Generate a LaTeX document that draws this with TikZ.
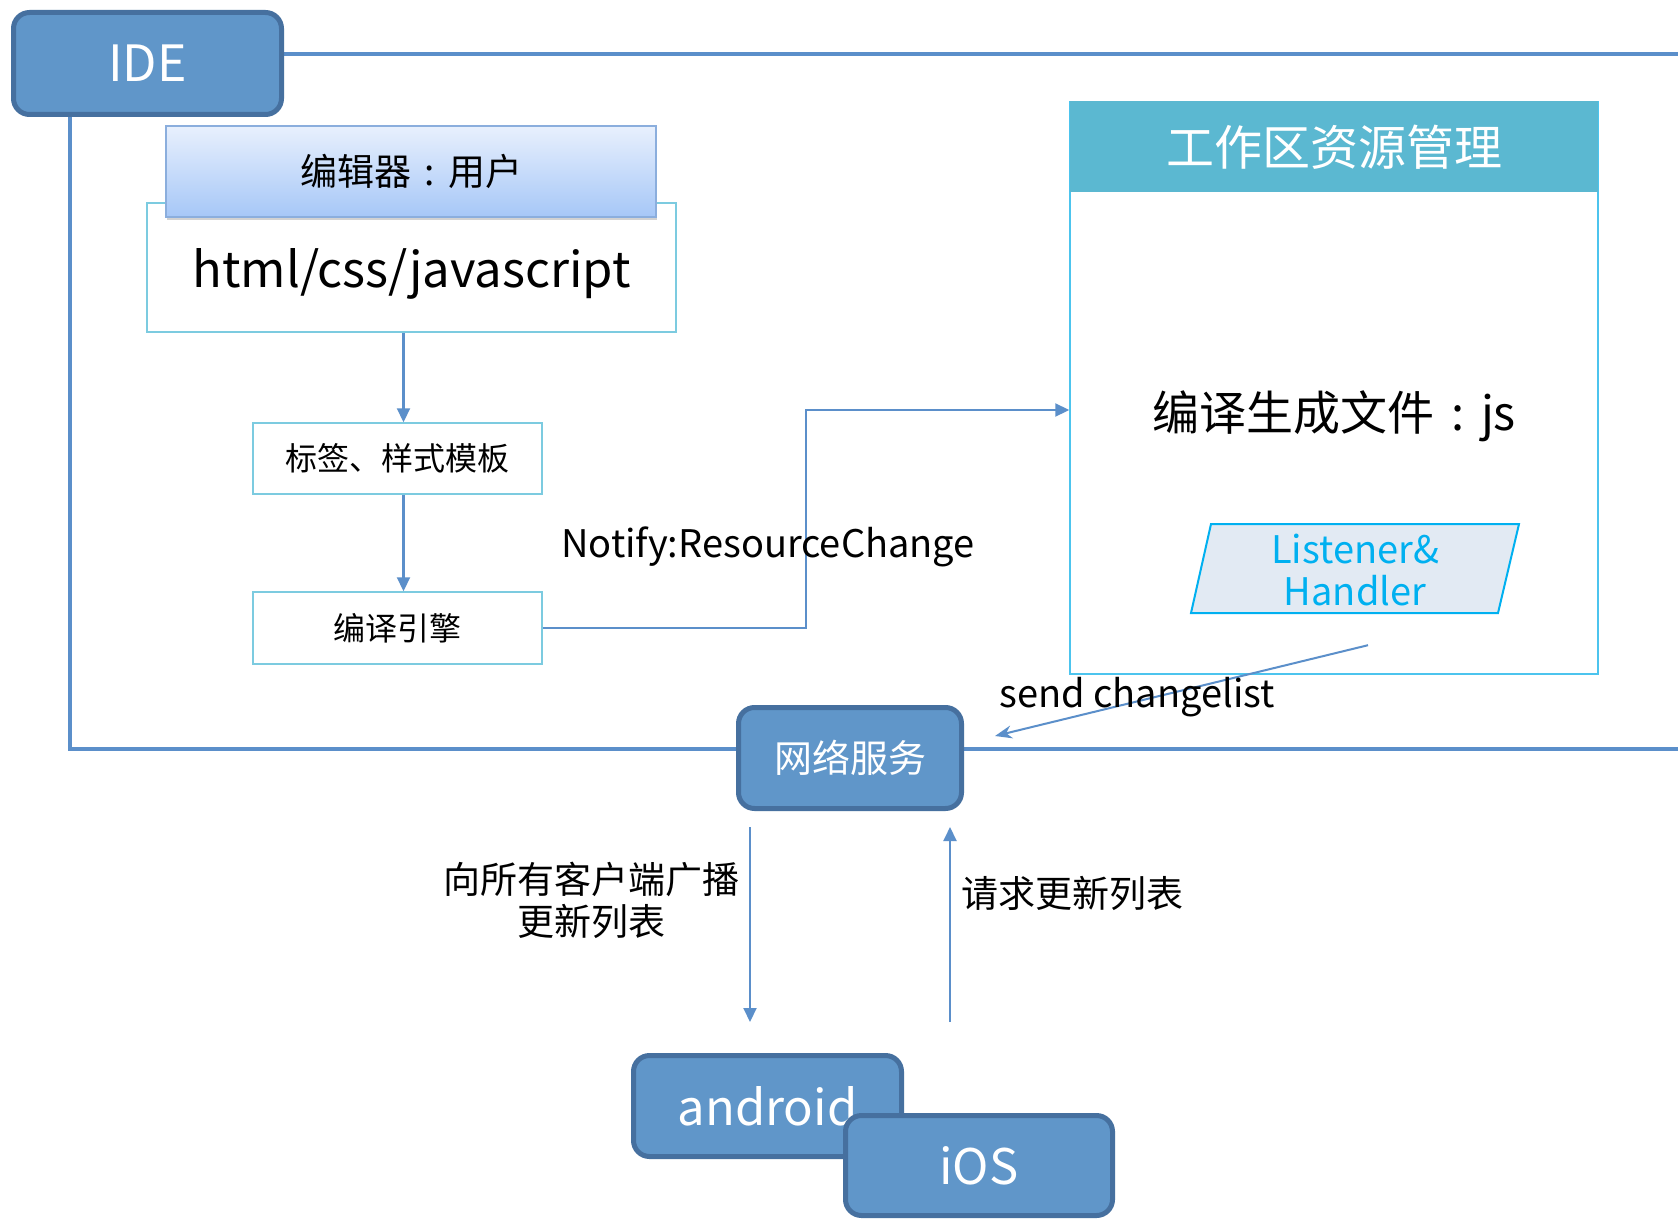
\documentclass[tikz,border=0pt]{standalone}
\usepackage{fontspec}
\newfontfamily\cjk{Noto Sans CJK SC}
\usetikzlibrary{arrows.meta,shadows,backgrounds}
\definecolor{boxblue}{HTML}{6096C9}
\definecolor{boxedge}{HTML}{46709F}
\definecolor{lineblue}{HTML}{5B8FCA}
\definecolor{cyanedge}{HTML}{7CCBE0}
\definecolor{headfill}{HTML}{5BB8D1}
\definecolor{wsedge}{HTML}{4CC4EE}
\definecolor{parafill}{HTML}{E2EAF3}
\definecolor{paraedge}{HTML}{00B0F0}
\definecolor{gradtop}{HTML}{E8F0FD}
\definecolor{gradbot}{HTML}{A6C7F7}
\definecolor{gradedge}{HTML}{8BAEDD}
\newcommand{\fsz}[2]{\fontsize{#1pt}{#2pt}\selectfont}
\newcommand{\ccolon}{\makebox[1em][c]{:}}
\tikzset{
  bluebox/.style={draw=boxedge, line width=5pt, fill=boxblue, rounded corners=16pt,
    text=white, inner sep=0pt},
  cyanbox/.style={draw=cyanedge, line width=1.5pt, fill=white, inner sep=0pt},
  frameline/.style={draw=lineblue, line width=4pt},
  arr/.style={draw=lineblue, line width=2.2pt, -{Triangle[width=13pt,length=14pt]}},
  thinarr/.style={draw=lineblue, line width=2pt, -{Stealth[width=13pt,length=17pt]}},
  lbl/.style={inner sep=0pt, text=black},
}
\begin{document}
\begin{tikzpicture}[x=1pt,y=-1pt]
\useasboundingbox (0,0) rectangle (1678,1220);

% blue boxes
\node[bluebox, minimum width=268pt, minimum height=102pt, font=\cjk\fsz{50}{56}] (ide) at (147.5,63.5) {IDE};
\node[bluebox, minimum width=223pt, minimum height=101pt, font=\cjk\fsz{38}{44}] (net) at (850,758) {网络服务};
\node[bluebox, minimum width=268pt, minimum height=101pt, font=\cjk\fsz{49}{56}] (android) at (767.5,1106) {android};
\node[bluebox, minimum width=267pt, minimum height=100pt, font=\cjk\fsz{49}{56}] (ios) at (979,1165.5) {iOS};

\coordinate (topend) at (1678,54);
\coordinate (botend) at (1678,749);
\begin{pgfonlayer}{background}
\fill[white] (0,0) rectangle (1678,1220);
\draw[frameline] ([yshift=9.5pt]ide.east) -- (topend);
\draw[frameline] ([xshift=58.5pt]ide.south west) |- (botend);
\end{pgfonlayer}

% editor group
\node[cyanbox, minimum width=529pt, minimum height=129pt] (html) at (411.5,267.5) {};
\node[lbl, font=\cjk\fsz{49}{56}] (htmltxt) at (411.5,274) {html/css/javascript};
\node[draw=gradedge, line width=1.5pt, top color=gradtop, bottom color=gradbot,
  minimum width=490pt, minimum height=91pt, inner sep=0pt,
  drop shadow={opacity=0.35, shadow xshift=1pt, shadow yshift=-3pt},
  font=\cjk\fsz{37}{42}] (editor) at (411,171.5) {编辑器\ccolon 用户};

\node[cyanbox, minimum width=289pt, minimum height=71pt, font=\cjk\fsz{32}{38}] (tag) at (397.5,458.5) {标签、样式模板};
\node[cyanbox, minimum width=289pt, minimum height=72pt, font=\cjk\fsz{32}{38}] (eng) at (397.5,628) {编译引擎};

\draw[arr] ([xshift=-8pt]html.south) -- ([xshift=-8pt]html.south |- tag.north);
\draw[arr] ([xshift=6pt]tag.south) -- ([xshift=6pt]tag.south |- eng.north);

% workspace
\node[draw=wsedge, line width=1.5pt, minimum width=528pt, minimum height=572pt, inner sep=0pt] (ws) at (1334,388) {};
\node[fill=headfill, minimum width=528pt, minimum height=91pt, inner sep=0pt, anchor=north,
  text=white, font=\cjk\fsz{48}{54}] (wshead) at (ws.north) {工作区资源管理};
\node[lbl, font=\cjk\fsz{47}{52}] (wsmain) at (1334,416) {编译生成文件\ccolon js};

\draw[draw=paraedge, line width=2pt, fill=parafill] (1191,613) -- (1211,524) -- (1519,524) -- (1498,613) -- cycle;
\node[inner sep=0pt, minimum width=300pt, minimum height=89pt, align=center, text=paraedge,
  font=\cjk\fsz{38}{42}] (lh) at (1355,570) {Listener\&\\Handler};

% connectors
\draw[arr] (eng.east) -- ++(263,0) |- ([yshift=-22pt]ws.west);
\node[lbl, font=\cjk\fsz{38}{44}] (notify) at (768,547) {Notify:ResourceChange};

\coordinate (sendend) at (995,736);
\draw[thinarr] ([xshift=13pt,yshift=-30.5pt]lh.south) -- (sendend);
\node[lbl, font=\cjk\fsz{38}{44}] (sendlbl) at (1137,697) {send changelist};

\draw[arr, line width=2pt, shorten <=16pt, shorten >=31pt] ([xshift=14pt]net.south west) -- ([xshift=14pt]net.south west |- android.north);
\draw[arr, line width=2pt, shorten <=91pt, shorten >=16pt] ([xshift=-14pt]net.south east |- ios.north) -- ([xshift=-14pt]net.south east);

\node[lbl, align=center, font=\cjk\fsz{37}{42}] (bcast) at (591,900) {向所有客户端广播\\更新列表};
\node[lbl, anchor=west, font=\cjk\fsz{37}{42}] (req) at (961,893) {请求更新列表};
\end{tikzpicture}
\end{document}
